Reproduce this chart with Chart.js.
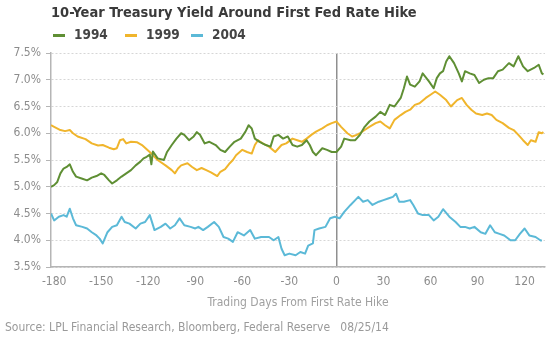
<!DOCTYPE html>
<html>
<head>
<meta charset="utf-8">
<script src="https://cdn.jsdelivr.net/npm/chart.js@4.4.1/dist/chart.umd.min.js"></script>
<style>
  html, body { margin:0; padding:0; background:#ffffff; }
  #wrap { position:relative; width:549px; height:341px; overflow:hidden; font-family:'Liberation Sans Narrow','DejaVu Sans Condensed',sans-serif; }
  #c { position:absolute; left:0; top:0; }
  #title { position:absolute; left:51px; top:4px; font-size:14.5px; font-weight:bold; color:#3a3a3a; white-space:nowrap; }
  #legend { position:absolute; left:53px; top:26px; font-size:13.5px; font-weight:bold; color:#444; white-space:nowrap; }
  .li { position:absolute; top:0; }
  .sw { position:absolute; top:8px; width:12px; height:2.5px; }
  .lt { position:absolute; top:0; }
  #source { position:absolute; left:5px; top:320px; font-size:12px; color:#9a9a9a; white-space:pre; }
</style>
</head>
<body>
<div id="wrap">
  <canvas id="c" width="549" height="341"></canvas>
  <div id="title">10-Year Treasury Yield Around First Fed Rate Hike</div>
  <div id="legend"></div>
  <div id="source">Source: LPL Financial Research, Bloomberg, Federal Reserve   08/25/14</div>
</div>
<script>
// ---- data (trading days from first rate hike, yield %) ----
const seriesNames = ["1994", "1999", "2004"];
const seriesColors = ["#5f8f34", "#f0b52c", "#5bb9d7"];

const days1994 = [-182,-180,-178,-176,-174,-172,-170,-168,-166,-162,-159,-156,-153,-150,-148,-145,-143,-140,-137,-134,-131,-128,-125,-123,-121,-119,-118,-117,-114,-110,-108,-105,-102,-99,-97,-94,-91,-89,-87,-84,-81,-77,-74,-71,-68,-65,-61,-58,-56,-54,-52,-49,-45,-42,-40,-37,-34,-31,-28,-25,-22,-19,-17,-15,-13,-9,-6,-3,0,3,5,9,12,15,18,21,25,28,31,34,37,41,43,45,47,50,53,55,59,62,64,66,68,70,72,75,78,80,82,85,88,91,94,97,100,103,106,110,113,116,119,122,126,129,131,132];
const yield1994 = [5.00,5.03,5.09,5.25,5.34,5.37,5.42,5.28,5.19,5.15,5.12,5.17,5.20,5.25,5.22,5.12,5.06,5.12,5.19,5.25,5.31,5.40,5.47,5.53,5.56,5.60,5.42,5.66,5.53,5.50,5.65,5.78,5.90,6.00,5.97,5.87,5.94,6.02,5.97,5.81,5.84,5.78,5.69,5.65,5.75,5.84,5.90,6.03,6.15,6.09,5.90,5.84,5.78,5.75,5.94,5.97,5.90,5.94,5.78,5.75,5.78,5.87,5.78,5.65,5.59,5.72,5.69,5.65,5.65,5.75,5.90,5.87,5.87,5.97,6.12,6.22,6.31,6.40,6.34,6.53,6.50,6.66,6.84,7.06,6.91,6.87,6.97,7.12,6.97,6.84,7.03,7.12,7.16,7.34,7.44,7.31,7.12,6.97,7.16,7.12,7.09,6.94,7.00,7.03,7.03,7.16,7.19,7.31,7.25,7.44,7.25,7.16,7.22,7.28,7.12,7.10];

const days1999 = [-182,-180,-176,-173,-170,-168,-165,-160,-156,-152,-149,-145,-142,-140,-138,-136,-134,-131,-127,-124,-121,-118,-114,-109,-105,-103,-101,-99,-95,-92,-89,-86,-83,-80,-76,-74,-71,-68,-66,-64,-60,-57,-54,-52,-50,-47,-43,-39,-35,-32,-28,-25,-22,-19,-16,-13,-9,-6,-3,0,3,7,10,13,15,18,21,25,28,31,34,37,41,44,47,50,53,57,60,63,66,70,73,77,80,83,86,89,93,96,99,102,106,110,113,116,119,122,124,127,129,131,132];
const yield1999 = [6.15,6.12,6.06,6.04,6.06,6.00,5.94,5.89,5.81,5.77,5.78,5.73,5.70,5.72,5.87,5.89,5.81,5.84,5.83,5.78,5.70,5.62,5.50,5.40,5.31,5.25,5.34,5.40,5.44,5.37,5.31,5.35,5.31,5.27,5.20,5.28,5.33,5.44,5.50,5.59,5.69,5.65,5.62,5.78,5.87,5.81,5.75,5.65,5.78,5.81,5.90,5.87,5.84,5.90,5.97,6.03,6.09,6.15,6.19,6.22,6.12,6.00,5.94,5.97,6.00,6.06,6.12,6.19,6.22,6.15,6.09,6.25,6.34,6.40,6.44,6.53,6.56,6.66,6.72,6.78,6.72,6.62,6.50,6.62,6.66,6.53,6.44,6.37,6.34,6.37,6.34,6.25,6.19,6.10,6.06,5.97,5.87,5.78,5.87,5.84,6.02,6.00,6.02];

const days2004 = [-182,-180,-177,-174,-172,-170,-168,-166,-162,-159,-156,-153,-151,-149,-146,-143,-140,-137,-135,-132,-128,-125,-122,-119,-116,-112,-109,-106,-103,-100,-97,-93,-90,-88,-85,-82,-78,-75,-72,-69,-66,-63,-59,-55,-52,-48,-43,-40,-37,-35,-33,-30,-26,-23,-20,-18,-15,-14,-11,-7,-4,-1,2,5,9,12,14,17,20,23,27,30,33,36,38,40,43,47,49,52,55,59,62,65,68,72,76,79,82,85,88,92,95,98,101,104,107,111,114,117,120,123,127,130,131];
const yield2004 = [4.50,4.37,4.44,4.47,4.44,4.59,4.41,4.28,4.25,4.22,4.15,4.09,4.03,3.94,4.15,4.25,4.28,4.44,4.34,4.31,4.22,4.31,4.34,4.47,4.19,4.25,4.31,4.22,4.28,4.41,4.28,4.25,4.22,4.25,4.19,4.25,4.34,4.25,4.06,4.03,3.97,4.15,4.09,4.19,4.03,4.06,4.06,4.00,4.06,3.84,3.72,3.75,3.72,3.78,3.75,3.90,3.94,4.19,4.22,4.25,4.41,4.44,4.41,4.53,4.66,4.75,4.81,4.72,4.75,4.66,4.72,4.75,4.78,4.81,4.87,4.72,4.72,4.75,4.66,4.50,4.47,4.47,4.37,4.44,4.58,4.44,4.34,4.25,4.25,4.22,4.25,4.15,4.12,4.28,4.15,4.12,4.09,4.00,4.00,4.12,4.22,4.09,4.06,4.00,3.99];

const yTicks = [3.5, 4.0, 4.5, 5.0, 5.5, 6.0, 6.5, 7.0, 7.5];
const xTicks = [-180, -150, -120, -90, -60, -30, 0, 30, 60, 90, 120];
const xTitle = "Trading Days From First Rate Hike";

// ---- legend (HTML text) ----
const legend = document.getElementById('legend');
const legendX = [0, 72, 138];
seriesNames.forEach((n, i) => {
  const li = document.createElement('div');
  li.className = 'li';
  li.style.left = legendX[i] + 'px';
  li.innerHTML = '<div class="sw" style="left:0;background:' + seriesColors[i] + '"></div><div class="lt" style="left:21px">' + n + '</div>';
  legend.appendChild(li);
});

const toPts = (xs, ys) => xs.map((x, i) => ({ x: x, y: ys[i] }));
const allDays = [days1994, days1999, days2004];
const allYields = [yield1994, yield1999, yield2004];

const FONT = "'Liberation Sans Narrow','DejaVu Sans Condensed',sans-serif";

new Chart(document.getElementById('c'), {
  type: 'line',
  data: {
    datasets: seriesNames.map((n, i) => ({
      label: n,
      data: toPts(allDays[i], allYields[i]),
      borderColor: seriesColors[i],
      backgroundColor: seriesColors[i],
      borderWidth: 2,
      pointRadius: 0,
      tension: 0,
      borderJoinStyle: 'round'
    }))
  },
  options: {
    responsive: false,
    animation: false,
    events: [],
    layout: { padding: { left: 0, right: 4, top: 53, bottom: 30 } },
    plugins: { legend: { display: false }, title: { display: false }, tooltip: { enabled: false } },
    scales: {
      x: {
        type: 'linear',
        min: -182,
        max: 133,
        afterFit: s => { s.height = 44; },
        afterBuildTicks: s => { s.ticks = xTicks.map(v => ({ value: v })); },
        ticks: { font: { family: FONT, size: 12 }, color: '#8c8c8c', padding: 8, maxRotation: 0, autoSkip: false },
        grid: {
          drawTicks: false,
          lineWidth: 1.5,
          color: c => (c.tick && c.tick.value === 0) ? '#8f8f8f' : 'rgba(0,0,0,0)'
        },
        border: { color: '#b5b5b5', width: 1.5 },
        title: { display: true, text: xTitle, font: { family: FONT, size: 12 }, color: '#a0a0a0', padding: { top: 0, bottom: 1 } }
      },
      y: {
        type: 'linear',
        min: 3.5,
        max: 7.5,
        afterFit: s => { s.width = 51; },
        afterBuildTicks: s => { s.ticks = yTicks.map(v => ({ value: v })); },
        ticks: { font: { family: FONT, size: 12 }, color: '#8c8c8c', padding: 5, callback: v => v.toFixed(1) + '%' },
        grid: { color: '#d6d6d6', lineWidth: 1, tickLength: 5, tickColor: '#b5b5b5', tickBorderDash: [], drawTicks: true },
        border: { color: '#b5b5b5', width: 1.5, dash: [2, 2] }
      }
    }
  }
});
</script>
</body>
</html>
